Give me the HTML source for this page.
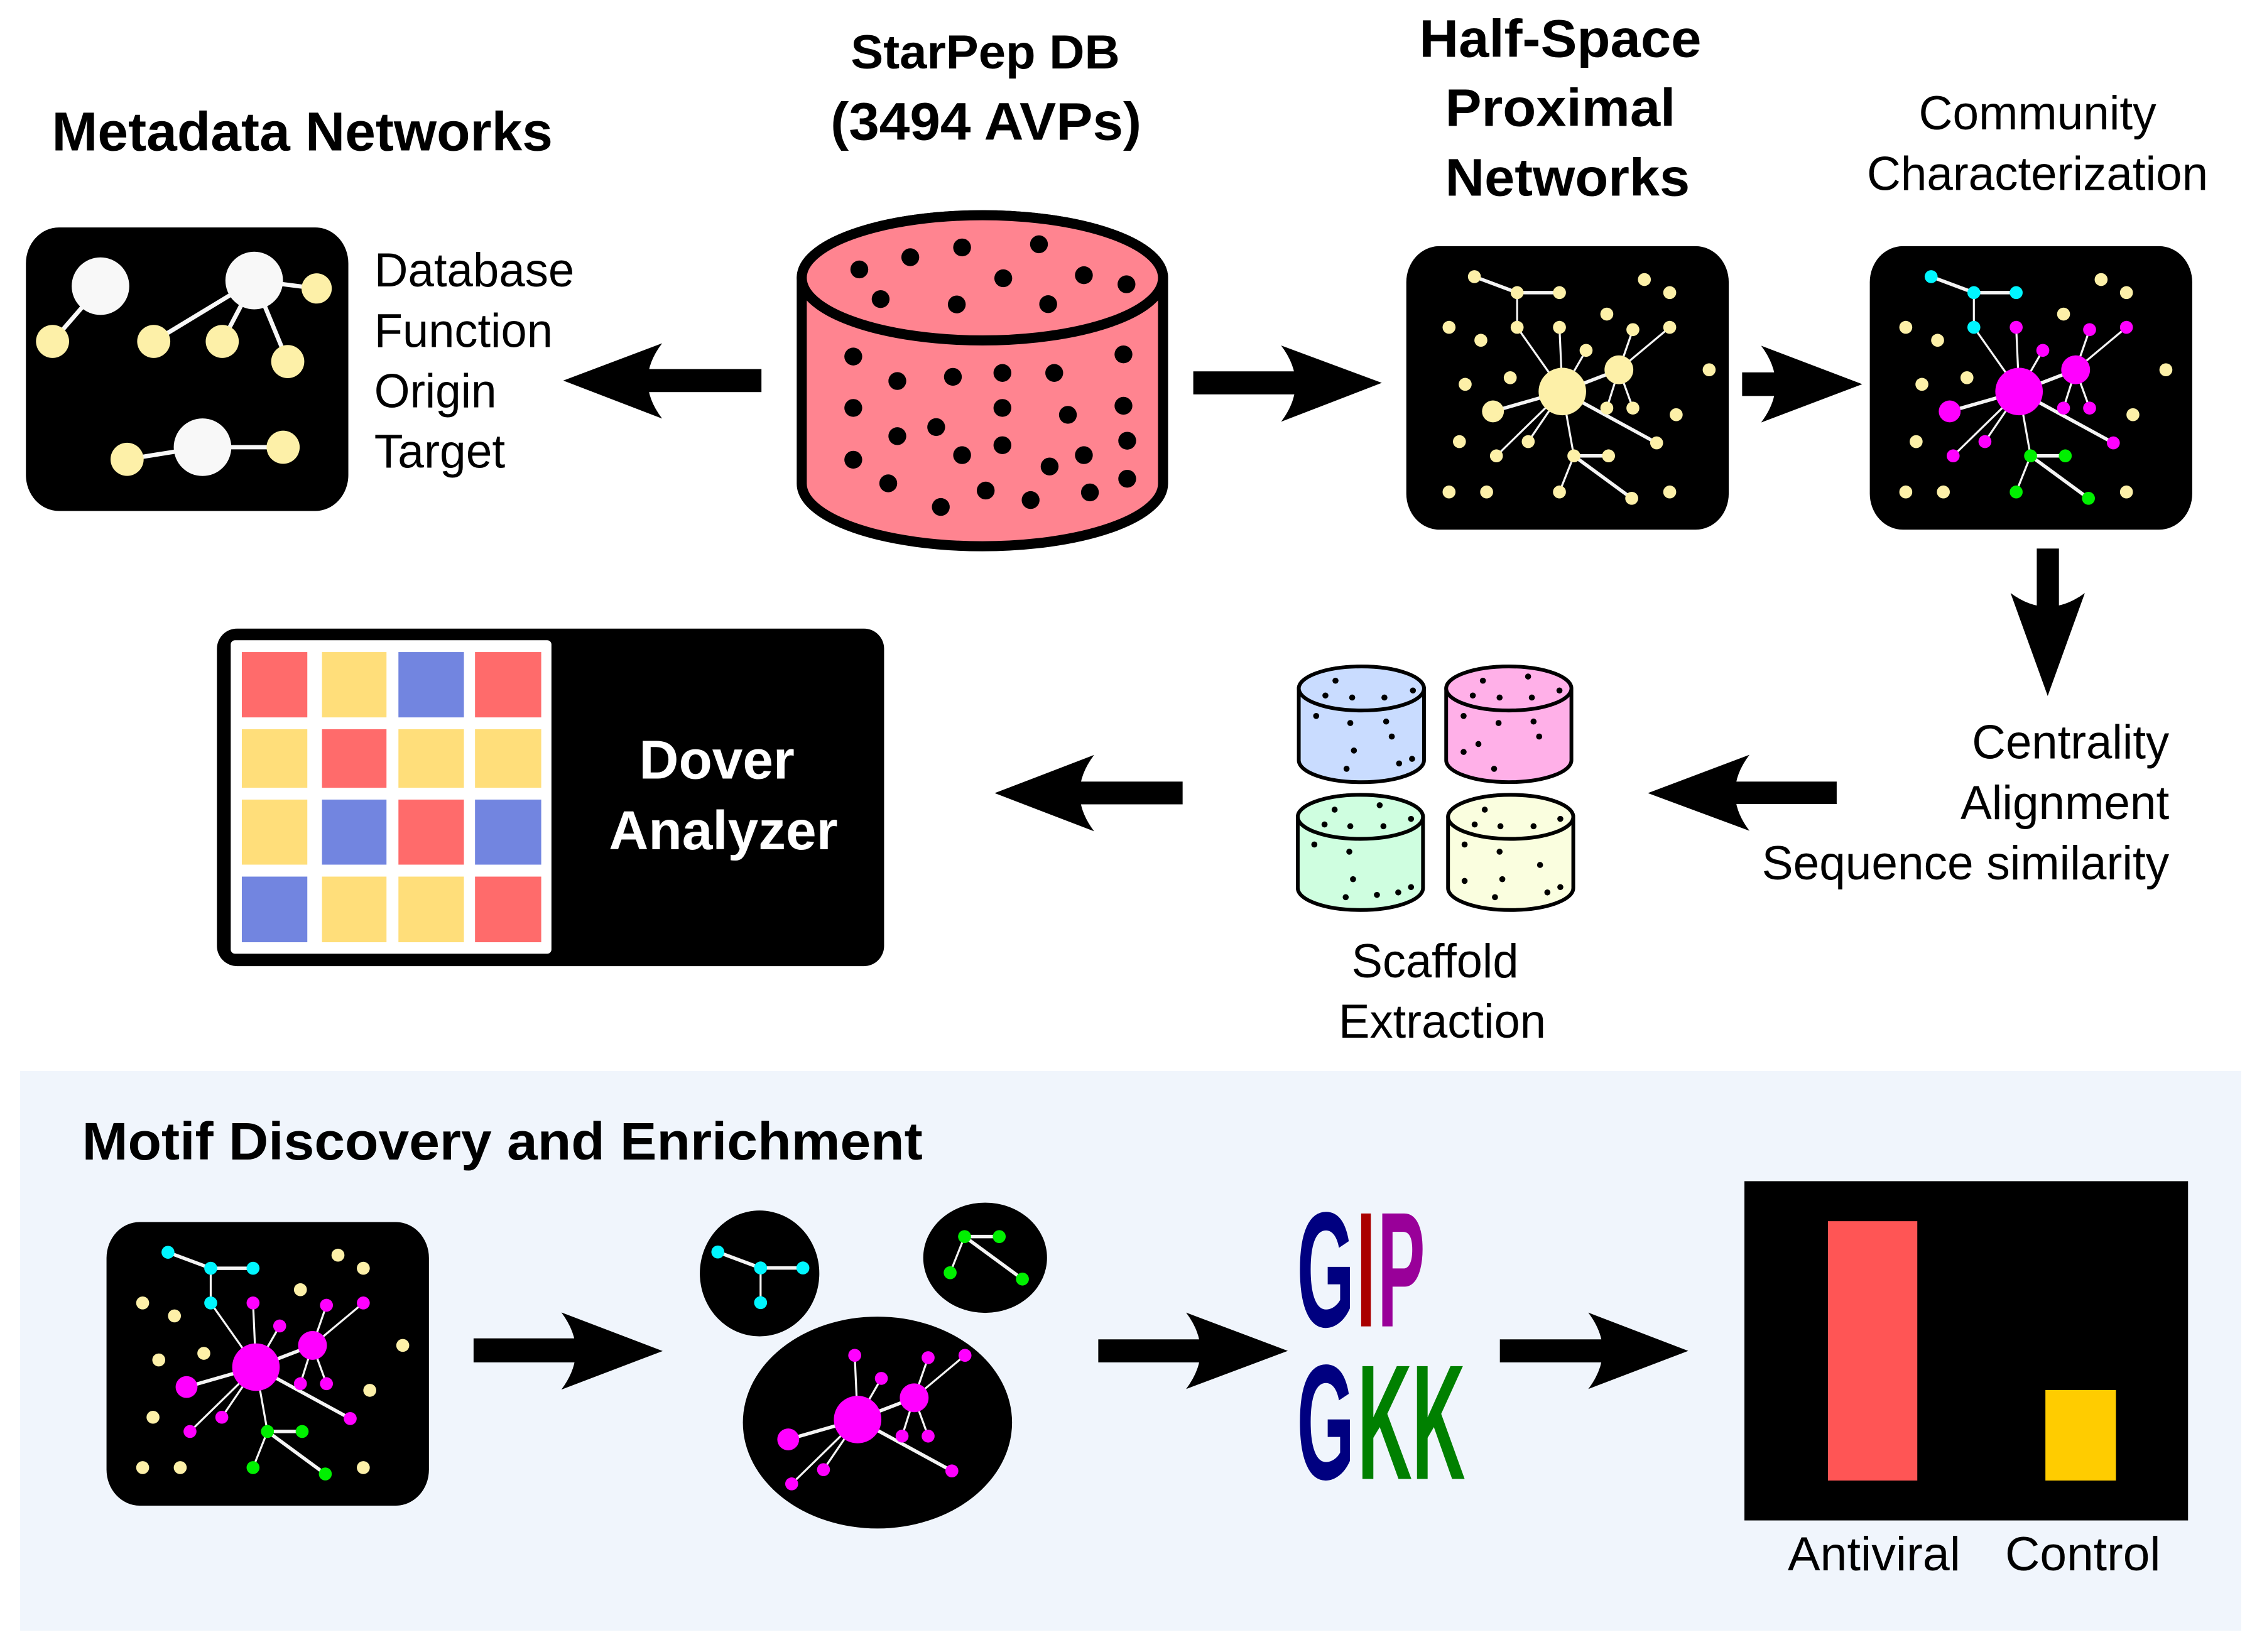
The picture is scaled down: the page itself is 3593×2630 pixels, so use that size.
<!DOCTYPE html>
<html><head><meta charset="utf-8"><style>
html,body{margin:0;padding:0;background:#fff}
svg{display:block;--cy:#00f6ff;--mg:#ff00ff;--gr:#00f000;--cr:#fdf0a8}
text{font-family:"Liberation Sans",sans-serif;fill:#000}
.b{font-weight:bold}
.e line{stroke:#f4f4f4;stroke-width:1.4}
.e line.t{stroke-width:2.4}
.cy circle{fill:var(--cy)}.mg circle{fill:var(--mg)}.gr circle{fill:var(--gr)}.cr circle{fill:var(--cr)}
</style></head><body>
<svg xmlns="http://www.w3.org/2000/svg" width="3593" height="2630" viewBox="0 0 1568 1147.7" preserveAspectRatio="none">
<defs>
<g id="cyan" class="cy"><g class="e"><line class="t" x1="1024.3" y1="192.2" x2="1054" y2="203.3"/><line class="t" x1="1054" y1="203.3" x2="1083.4" y2="203.3"/><line x1="1054" y1="203.3" x2="1054" y2="227.4"/></g>
<circle cx="1024.3" cy="192.2" r="4.5"/><circle cx="1054" cy="203.3" r="4.5"/><circle cx="1083.4" cy="203.3" r="4.5"/><circle cx="1054" cy="227.4" r="4.5"/></g>
<g id="green" class="gr"><g class="e"><line class="t" x1="1093.4" y1="316.7" x2="1117.5" y2="316.7"/><line x1="1093.4" y1="316.7" x2="1083.4" y2="341.8"/><line class="t" x1="1093.4" y1="316.7" x2="1133.6" y2="346.2"/></g>
<circle cx="1093.4" cy="316.7" r="4.5"/><circle cx="1117.5" cy="316.7" r="4.5"/><circle cx="1083.4" cy="341.8" r="4.5"/><circle cx="1133.6" cy="346.2" r="4.5"/></g>
<g id="mag" class="mg"><g class="e"><line x1="1085.4" y1="272" x2="1083.4" y2="227.4"/><line x1="1085.4" y1="272" x2="1101.9" y2="243.4"/><line class="t" x1="1085.4" y1="272" x2="1124.7" y2="256.9"/><line x1="1124.7" y1="256.9" x2="1134.4" y2="229"/><line x1="1124.7" y1="256.9" x2="1160" y2="227.4"/><line x1="1124.7" y1="256.9" x2="1116.3" y2="283.5"/><line x1="1124.7" y1="256.9" x2="1134.4" y2="283.5"/><line class="t" x1="1085.4" y1="272" x2="1037.2" y2="285.8"/><line x1="1085.4" y1="272" x2="1039.6" y2="316.7"/><line x1="1085.4" y1="272" x2="1061.7" y2="306.8"/><line class="t" x1="1085.4" y1="272" x2="1150.9" y2="307.7"/></g>
<circle cx="1083.4" cy="227.4" r="4.5"/><circle cx="1134.4" cy="229" r="4.5"/><circle cx="1160" cy="227.4" r="4.5"/><circle cx="1101.9" cy="243.4" r="4.5"/><circle cx="1085.4" cy="272" r="16.5"/><circle cx="1124.7" cy="256.9" r="10"/><circle cx="1037.2" cy="285.8" r="7.6"/><circle cx="1116.3" cy="283.5" r="4.5"/><circle cx="1134.4" cy="283.5" r="4.5"/><circle cx="1061.7" cy="306.8" r="4.5"/><circle cx="1150.9" cy="307.7" r="4.5"/><circle cx="1039.6" cy="316.7" r="4.5"/></g>
<g id="net"><g class="e"><line x1="1054" y1="227.4" x2="1085.4" y2="272"/><line x1="1085.4" y1="272" x2="1093.4" y2="316.7"/></g>
<use href="#cyan"/><use href="#green"/><use href="#mag"/>
<g class="cr"><circle cx="1142.4" cy="194.2" r="4.5"/><circle cx="1160" cy="203.3" r="4.5"/><circle cx="1116.3" cy="218.2" r="4.5"/><circle cx="1006.7" cy="227.4" r="4.5"/><circle cx="1028.8" cy="236.4" r="4.5"/><circle cx="1187.4" cy="256.9" r="4.5"/><circle cx="1049.2" cy="262.4" r="4.5"/><circle cx="1017.9" cy="267" r="4.5"/><circle cx="1164.5" cy="288.1" r="4.5"/><circle cx="1013.9" cy="306.8" r="4.5"/><circle cx="1006.7" cy="341.8" r="4.5"/><circle cx="1032.8" cy="341.8" r="4.5"/><circle cx="1160" cy="341.8" r="4.5"/></g></g>
</defs>
<rect width="1568" height="1147.7" fill="#fff"/>
<rect x="14" y="744" width="1543" height="389" fill="#f0f5fc"/>

<!-- headings -->
<text class="b" x="36" y="104.5" font-size="38" textLength="348" lengthAdjust="spacingAndGlyphs">Metadata Networks</text>
<text class="b" x="591" y="47.5" font-size="33" textLength="187" lengthAdjust="spacingAndGlyphs">StarPep DB</text>
<text class="b" x="577" y="97" font-size="37" textLength="216" lengthAdjust="spacingAndGlyphs">(3494 AVPs)</text>
<text class="b" x="986" y="39.5" font-size="37" textLength="196" lengthAdjust="spacingAndGlyphs">Half-Space</text>
<text class="b" x="1004" y="87.5" font-size="37" textLength="160" lengthAdjust="spacingAndGlyphs">Proximal</text>
<text class="b" x="1004" y="136" font-size="37" textLength="170" lengthAdjust="spacingAndGlyphs">Networks</text>
<text x="1333" y="90" font-size="33" textLength="165" lengthAdjust="spacingAndGlyphs">Community</text>
<text x="1297" y="132" font-size="33" textLength="237" lengthAdjust="spacingAndGlyphs">Characterization</text>
<text x="260" y="199" font-size="33" textLength="139" lengthAdjust="spacingAndGlyphs">Database</text>
<text x="260" y="241" font-size="33" textLength="124" lengthAdjust="spacingAndGlyphs">Function</text>
<text x="260" y="283" font-size="33" textLength="85" lengthAdjust="spacingAndGlyphs">Origin</text>
<text x="260" y="325" font-size="33" textLength="91" lengthAdjust="spacingAndGlyphs">Target</text>
<text x="1370" y="527" font-size="33" textLength="137" lengthAdjust="spacingAndGlyphs">Centrality</text>
<text x="1362" y="569" font-size="33" textLength="145" lengthAdjust="spacingAndGlyphs">Alignment</text>
<text x="1224" y="611" font-size="33" textLength="283" lengthAdjust="spacingAndGlyphs">Sequence similarity</text>
<text x="939" y="679" font-size="33" textLength="116" lengthAdjust="spacingAndGlyphs">Scaffold</text>
<text x="930" y="721" font-size="33" textLength="144" lengthAdjust="spacingAndGlyphs">Extraction</text>
<text class="b" x="57" y="805.5" font-size="37" textLength="584" lengthAdjust="spacingAndGlyphs">Motif Discovery and Enrichment</text>
<text x="1242" y="1091" font-size="33" textLength="120" lengthAdjust="spacingAndGlyphs">Antiviral</text>
<text x="1393" y="1091" font-size="33" textLength="108" lengthAdjust="spacingAndGlyphs">Control</text>

<!-- metadata panel -->
<rect x="18" y="158" width="224" height="197" rx="23" ry="25" fill="#000"/>
<g stroke="#f8f8f8" stroke-width="3">
<line x1="69.8" y1="198.8" x2="36.5" y2="237.2"/><line x1="176.6" y1="194.9" x2="106.8" y2="237.2"/><line x1="176.6" y1="194.9" x2="154.4" y2="237.2"/><line x1="176.6" y1="194.9" x2="199.9" y2="251.2"/><line x1="176.6" y1="194.9" x2="220" y2="200.4"/><line x1="140.7" y1="310.7" x2="88.3" y2="319.1"/><line x1="140.7" y1="310.7" x2="196.7" y2="310.7"/></g>
<g fill="#f8f8f8"><circle cx="69.8" cy="198.8" r="20"/><circle cx="176.6" cy="194.9" r="20"/><circle cx="140.7" cy="310.7" r="20"/></g>
<g fill="#fdf0a8"><circle cx="36.5" cy="237.2" r="11.5"/><circle cx="106.8" cy="237.2" r="11.5"/><circle cx="154.4" cy="237.2" r="11.5"/><circle cx="199.9" cy="251.2" r="11.5"/><circle cx="220" cy="200.4" r="10.5"/><circle cx="88.3" cy="319.1" r="11.5"/><circle cx="196.7" cy="310.7" r="11.5"/></g>

<!-- big cylinder -->
<path d="M557 193V336A125.5 43.5 0 0 0 808 336V193A125.5 43.5 0 0 0 557 193Z" fill="#ff8490" stroke="#000" stroke-width="7"/>
<ellipse cx="682.5" cy="193" rx="125.5" ry="43.5" fill="#ff8490" stroke="#000" stroke-width="7"/>
<g fill="#000"><circle cx="597" cy="187.2" r="6.2"/><circle cx="632.4" cy="178.7" r="6.2"/><circle cx="668.4" cy="171.9" r="6.2"/><circle cx="721.8" cy="169.7" r="6.2"/><circle cx="697" cy="193.3" r="6.2"/><circle cx="753" cy="191.2" r="6.2"/><circle cx="782.6" cy="197.5" r="6.2"/><circle cx="611.8" cy="207.8" r="6.2"/><circle cx="664.7" cy="211.5" r="6.2"/><circle cx="728.2" cy="211.3" r="6.2"/><circle cx="592.8" cy="247.7" r="6.2"/><circle cx="780.5" cy="246.2" r="6.2"/><circle cx="623.4" cy="264.7" r="6.2"/><circle cx="662" cy="261.8" r="6.2"/><circle cx="696.4" cy="259.1" r="6.2"/><circle cx="732.4" cy="259.1" r="6.2"/><circle cx="592.8" cy="283.4" r="6.2"/><circle cx="696.4" cy="283.4" r="6.2"/><circle cx="780.5" cy="281.9" r="6.2"/><circle cx="741.9" cy="288.2" r="6.2"/><circle cx="650.4" cy="296.7" r="6.2"/><circle cx="623.4" cy="303" r="6.2"/><circle cx="783.1" cy="306.2" r="6.2"/><circle cx="696.4" cy="309.3" r="6.2"/><circle cx="668.4" cy="316.2" r="6.2"/><circle cx="753" cy="316.2" r="6.2"/><circle cx="729.2" cy="324.1" r="6.2"/><circle cx="592.8" cy="319.4" r="6.2"/><circle cx="783.1" cy="332.6" r="6.2"/><circle cx="617.1" cy="335.8" r="6.2"/><circle cx="684.8" cy="340.8" r="6.2"/><circle cx="757.2" cy="342.1" r="6.2"/><circle cx="716" cy="347.4" r="6.2"/><circle cx="653.6" cy="352.2" r="6.2"/></g>

<!-- network panels -->
<rect x="977" y="171" width="224" height="197" rx="23" ry="25" fill="#000"/>
<g style="--cy:#fdf0a8;--mg:#fdf0a8;--gr:#fdf0a8"><use href="#net"/></g>
<rect x="1299" y="171" width="224" height="197" rx="23" ry="25" fill="#000"/>
<use href="#net" transform="translate(317.3 0)"/>
<rect x="74" y="849" width="224" height="197" rx="23" ry="25" fill="#000"/>
<use href="#net" transform="translate(-907.6 677.8)"/>

<!-- clusters -->
<ellipse cx="527.7" cy="884.7" rx="41.5" ry="43.7" fill="#000"/>
<use href="#cyan" transform="translate(-525.6 677.6)"/>
<ellipse cx="684.4" cy="873.8" rx="43" ry="38.3" fill="#000"/>
<use href="#green" transform="translate(-423.3 542.4)"/>
<ellipse cx="609.6" cy="988.3" rx="93.5" ry="73.6" fill="#000"/>
<use href="#mag" transform="translate(-489.6 714.2)"/>

<!-- small cylinders -->
<g stroke="#000" stroke-width="2.6">
<path d="M902.3 478.3V528.2A43.5 15.2 0 0 0 989.3 528.2V478.3A43.5 15.2 0 0 0 902.3 478.3Z" fill="#c9dcff"/><ellipse cx="945.8" cy="478.3" rx="43.5" ry="15.3" fill="#c9dcff"/>
<path d="M1004.7 478.3V528.2A43.5 15.2 0 0 0 1091.7 528.2V478.3A43.5 15.2 0 0 0 1004.7 478.3Z" fill="#ffb0e8"/><ellipse cx="1048.2" cy="478.3" rx="43.5" ry="15.3" fill="#ffb0e8"/>
<path d="M901.6 567.5V617A43.5 15.2 0 0 0 988.6 617V567.5A43.5 15.2 0 0 0 901.6 567.5Z" fill="#cffee0"/><ellipse cx="945.1" cy="567.5" rx="43.5" ry="15.3" fill="#cffee0"/>
<path d="M1006 567.5V617A43.5 15.2 0 0 0 1093 617V567.5A43.5 15.2 0 0 0 1006 567.5Z" fill="#fafedf"/><ellipse cx="1049.5" cy="567.5" rx="43.5" ry="15.3" fill="#fafedf"/></g>
<g fill="#000"><circle cx="927.8" cy="472.9" r="2.1"/><circle cx="981.6" cy="479.7" r="2.1"/><circle cx="920.8" cy="483.2" r="2.1"/><circle cx="939.4" cy="484.6" r="2.1"/><circle cx="961.8" cy="484.6" r="2.1"/><circle cx="914.4" cy="497.4" r="2.1"/><circle cx="938.1" cy="502.3" r="2.1"/><circle cx="963" cy="501.3" r="2.1"/><circle cx="966.9" cy="511.7" r="2.1"/><circle cx="940.6" cy="521.4" r="2.1"/><circle cx="981" cy="527.2" r="2.1"/><circle cx="972" cy="530.4" r="2.1"/><circle cx="935.5" cy="534.1" r="2.1"/>
<circle cx="1030.2" cy="472.9" r="2.1"/><circle cx="1061.6" cy="470" r="2.1"/><circle cx="1083.4" cy="479.7" r="2.1"/><circle cx="1023.2" cy="483.2" r="2.1"/><circle cx="1041.8" cy="484.6" r="2.1"/><circle cx="1064.2" cy="484.6" r="2.1"/><circle cx="1016.8" cy="497.4" r="2.1"/><circle cx="1041.1" cy="502.3" r="2.1"/><circle cx="1065.4" cy="501.3" r="2.1"/><circle cx="1069.3" cy="511.7" r="2.1"/><circle cx="1027.1" cy="516.9" r="2.1"/><circle cx="1016.8" cy="522.4" r="2.1"/><circle cx="1038" cy="534.1" r="2.1"/>
<circle cx="927.2" cy="562.5" r="2.1"/><circle cx="958.5" cy="559.4" r="2.1"/><circle cx="980.3" cy="568.9" r="2.1"/><circle cx="920.2" cy="572.8" r="2.1"/><circle cx="938.1" cy="574" r="2.1"/><circle cx="961.1" cy="574" r="2.1"/><circle cx="913.1" cy="586.7" r="2.1"/><circle cx="937.4" cy="591.7" r="2.1"/><circle cx="940" cy="610.8" r="2.1"/><circle cx="980.3" cy="616.3" r="2.1"/><circle cx="971.4" cy="620" r="2.1"/><circle cx="956.6" cy="621.7" r="2.1"/><circle cx="934.9" cy="623.3" r="2.1"/>
<circle cx="1031.5" cy="562.5" r="2.1"/><circle cx="1084" cy="568.9" r="2.1"/><circle cx="1024.5" cy="572.8" r="2.1"/><circle cx="1042.4" cy="574" r="2.1"/><circle cx="1065.4" cy="574" r="2.1"/><circle cx="1017.5" cy="586.7" r="2.1"/><circle cx="1041.8" cy="591.7" r="2.1"/><circle cx="1069.9" cy="600.9" r="2.1"/><circle cx="1017.5" cy="612" r="2.1"/><circle cx="1043.7" cy="610.8" r="2.1"/><circle cx="1084" cy="616.3" r="2.1"/><circle cx="1075" cy="620" r="2.1"/><circle cx="1038.6" cy="623.3" r="2.1"/></g>

<!-- dover panel -->
<rect x="150.7" y="436.7" width="463.5" height="234.5" rx="14" fill="#000"/>
<rect x="160.3" y="444.8" width="222.8" height="217.8" rx="3" fill="#fff"/>
<g fill="#ff6b6b"><rect x="168" y="453" width="45.5" height="45.4"/><rect x="330" y="453" width="46" height="45.4"/><rect x="223.7" y="506.6" width="44.8" height="40.7"/><rect x="276.8" y="555.5" width="45.5" height="45.2"/><rect x="330" y="609" width="46" height="45.6"/></g>
<g fill="#ffde7a"><rect x="223.7" y="453" width="44.8" height="45.4"/><rect x="168" y="506.6" width="45.5" height="40.7"/><rect x="276.8" y="506.6" width="45.5" height="40.7"/><rect x="330" y="506.6" width="46" height="40.7"/><rect x="168" y="555.5" width="45.5" height="45.2"/><rect x="223.7" y="609" width="44.8" height="45.6"/><rect x="276.8" y="609" width="45.5" height="45.6"/></g>
<g fill="#7285e0"><rect x="276.8" y="453" width="45.5" height="45.4"/><rect x="223.7" y="555.5" width="44.8" height="45.2"/><rect x="330" y="555.5" width="46" height="45.2"/><rect x="168" y="609" width="45.5" height="45.6"/></g>
<text class="b" x="444" y="541" font-size="38" textLength="108" lengthAdjust="spacingAndGlyphs" style="fill:#fff">Dover</text>
<text class="b" x="423" y="590" font-size="38" textLength="159" lengthAdjust="spacingAndGlyphs" style="fill:#fff">Analyzer</text>

<!-- arrows -->
<g fill="#000">
<path d="M391.3 264.4L460 238.5Q440 264.6 460 290.8Z"/><rect x="445" y="256.4" width="84" height="16"/>
<path d="M960 266L890 240Q910 266.5 890 293Z"/><rect x="829" y="258" width="76" height="16"/>
<path d="M1293.8 266.9L1223.5 240.2Q1243.5 266.9 1223.5 293.5Z"/><rect x="1210.3" y="258.7" width="28" height="16.4"/>
<path d="M1422.6 483.5L1396.8 412Q1422.6 431 1448.4 412Z"/><rect x="1415" y="381.1" width="15.4" height="44"/>
<path d="M1144.8 551L1215.4 524.4Q1195.4 550.8 1215.4 577.2Z"/><rect x="1200" y="543" width="76" height="15.6"/>
<path d="M691 551L760.1 524.5Q740.1 551 760.1 577.5Z"/><rect x="745" y="543" width="76.6" height="15.8"/>
<path d="M460.4 938.6L390 911.8Q410 938.6 390 965.4Z"/><rect x="329" y="929.8" width="76" height="16.7"/>
<path d="M894.7 938.5L824 911.9Q844 938.5 824 965Z"/><rect x="763" y="930.5" width="76" height="16"/>
<path d="M1172.9 938.5L1103.4 911.9Q1123.4 938.5 1103.4 965Z"/><rect x="1042" y="930.5" width="76" height="16"/>
</g>

<!-- logo -->
<g class="b" font-size="114">
<text x="901" y="921.5" textLength="40" lengthAdjust="spacingAndGlyphs" style="fill:#000080">G</text>
<text x="942.5" y="921.5" textLength="13" lengthAdjust="spacingAndGlyphs" style="fill:#aa0000">I</text>
<text x="957" y="921.5" textLength="33" lengthAdjust="spacingAndGlyphs" style="fill:#990099">P</text>
<text x="901" y="1027.5" textLength="40" lengthAdjust="spacingAndGlyphs" style="fill:#000080">G</text>
<text x="943" y="1027.5" textLength="38" lengthAdjust="spacingAndGlyphs" style="fill:#008000">K</text>
<text x="981" y="1027.5" textLength="37" lengthAdjust="spacingAndGlyphs" style="fill:#008000">K</text>
</g>

<!-- bar chart -->
<rect x="1211.9" y="820.6" width="308.2" height="235.7" fill="#000"/>
<rect x="1269.9" y="848.4" width="62.1" height="180.2" fill="#ff5555"/>
<rect x="1421" y="965.7" width="49" height="62.9" fill="#ffcc00"/>
</svg>
</body></html>
